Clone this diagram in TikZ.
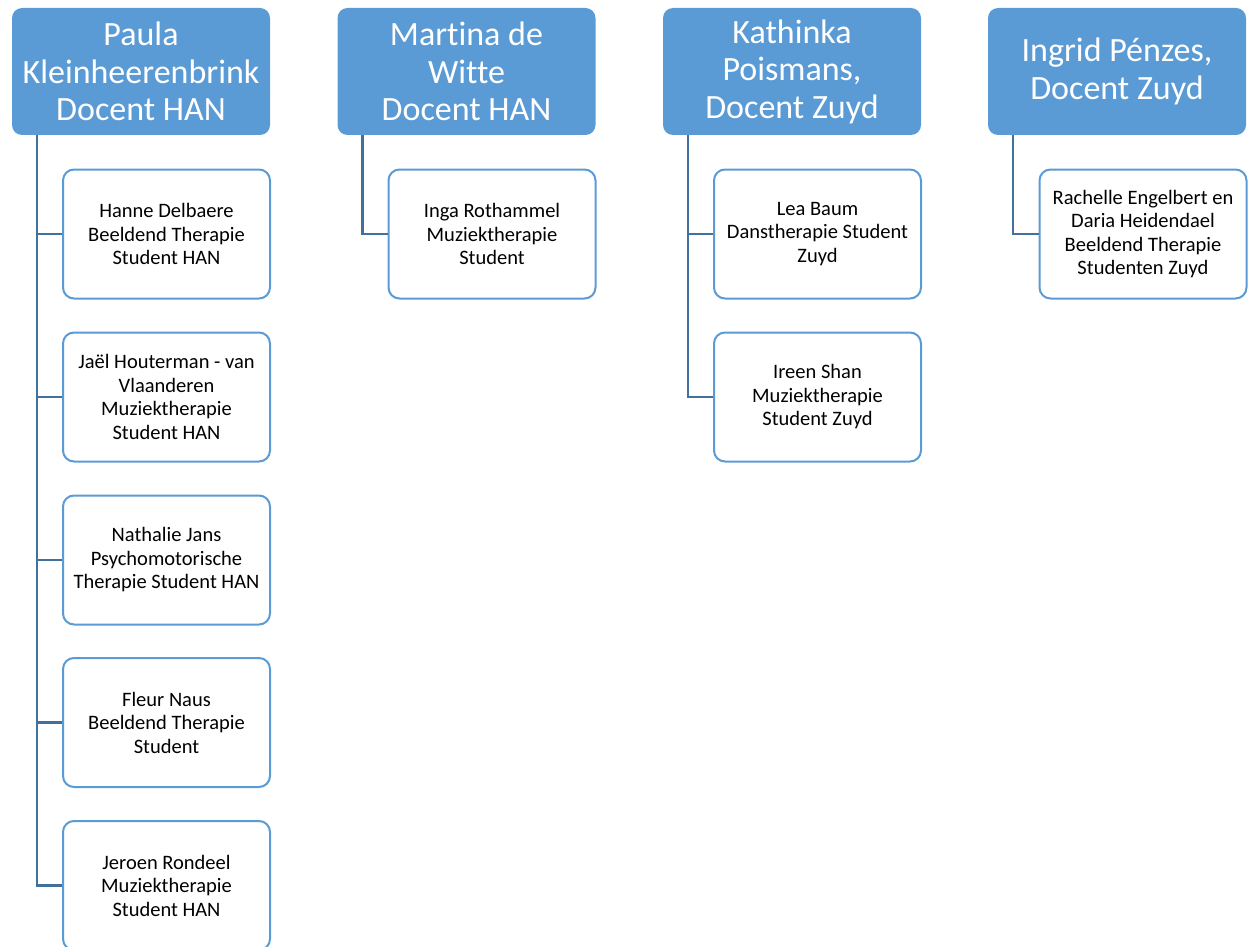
\documentclass[tikz,border=0pt]{standalone}
\usepackage{fontspec}
\setmainfont[Ligatures={NoCommon,NoRare}]{Carlito}
\definecolor{hdrblue}{HTML}{5B9BD5}
\definecolor{lineblue}{HTML}{41719C}
\begin{document}
\begin{tikzpicture}[x=1pt,y=-1pt,
  header/.style={draw=none,fill=hdrblue,rounded corners=10pt,minimum width=258pt,minimum height=127pt,
    text=white,align=center,inner sep=0pt,font=\fontsize{34}{37.5}\selectfont},
  child/.style={draw=hdrblue,line width=2pt,fill=white,rounded corners=11pt,minimum width=207pt,minimum height=129pt,
    text=black,align=center,inner sep=0pt,font=\fontsize{20.5}{23.5}\selectfont},
  conn/.style={draw=lineblue,line width=2.5pt}]
\useasboundingbox (0,0) rectangle (1253,947);
% headers
\node[header] (h1) at (141,71.5) {Paula\\Kleinheerenbrink\\Docent HAN};
\node[header] (h2) at (466.5,71.5) {Martina de\\Witte\\Docent HAN};
\node[header] (h3) at (792,71.5) {Kathinka\\Poismans,\\Docent Zuyd};
\node[header] (h4) at (1117,71.5) {Ingrid Pénzes,\\Docent Zuyd};
% children
\node[child] (c11) at (166.5,234) {Hanne Delbaere\\Beeldend Therapie\\Student HAN};
\node[child] (c12) at (166.5,397) {Jaël Houterman - van\\Vlaanderen\\Muziektherapie\\Student HAN};
\node[child] (c13) at (166.5,560) {Nathalie Jans\\Psychomotorische\\Therapie Student HAN};
\node[child] (c14) at (166.5,722.5) {Fleur Naus\\Beeldend Therapie\\Student};
\node[child] (c15) at (166.5,885.5) {Jeroen Rondeel\\Muziektherapie\\Student HAN};
\node[child] (c21) at (492,234) {Inga Rothammel\\Muziektherapie\\Student};
\node[child] (c31) at (817.5,234) {Lea Baum\\Danstherapie Student\\Zuyd};
\node[child] (c32) at (817.5,397) {Ireen Shan\\Muziektherapie\\Student Zuyd};
\node[child] (c41) at (1143,234) {Rachelle Engelbert en\\Daria Heidendael\\Beeldend Therapie\\Studenten Zuyd};
% connectors
\foreach \c in {c11,c12,c13,c14,c15}{
  \draw[conn] ([xshift=25pt]h1.south west) |- (\c.west);
}
\draw[conn] ([xshift=25pt]h2.south west) |- (c21.west);
\foreach \c in {c31,c32}{
  \draw[conn] ([xshift=25pt]h3.south west) |- (\c.west);
}
\draw[conn] ([xshift=25pt]h4.south west) |- (c41.west);
\end{tikzpicture}
\end{document}
